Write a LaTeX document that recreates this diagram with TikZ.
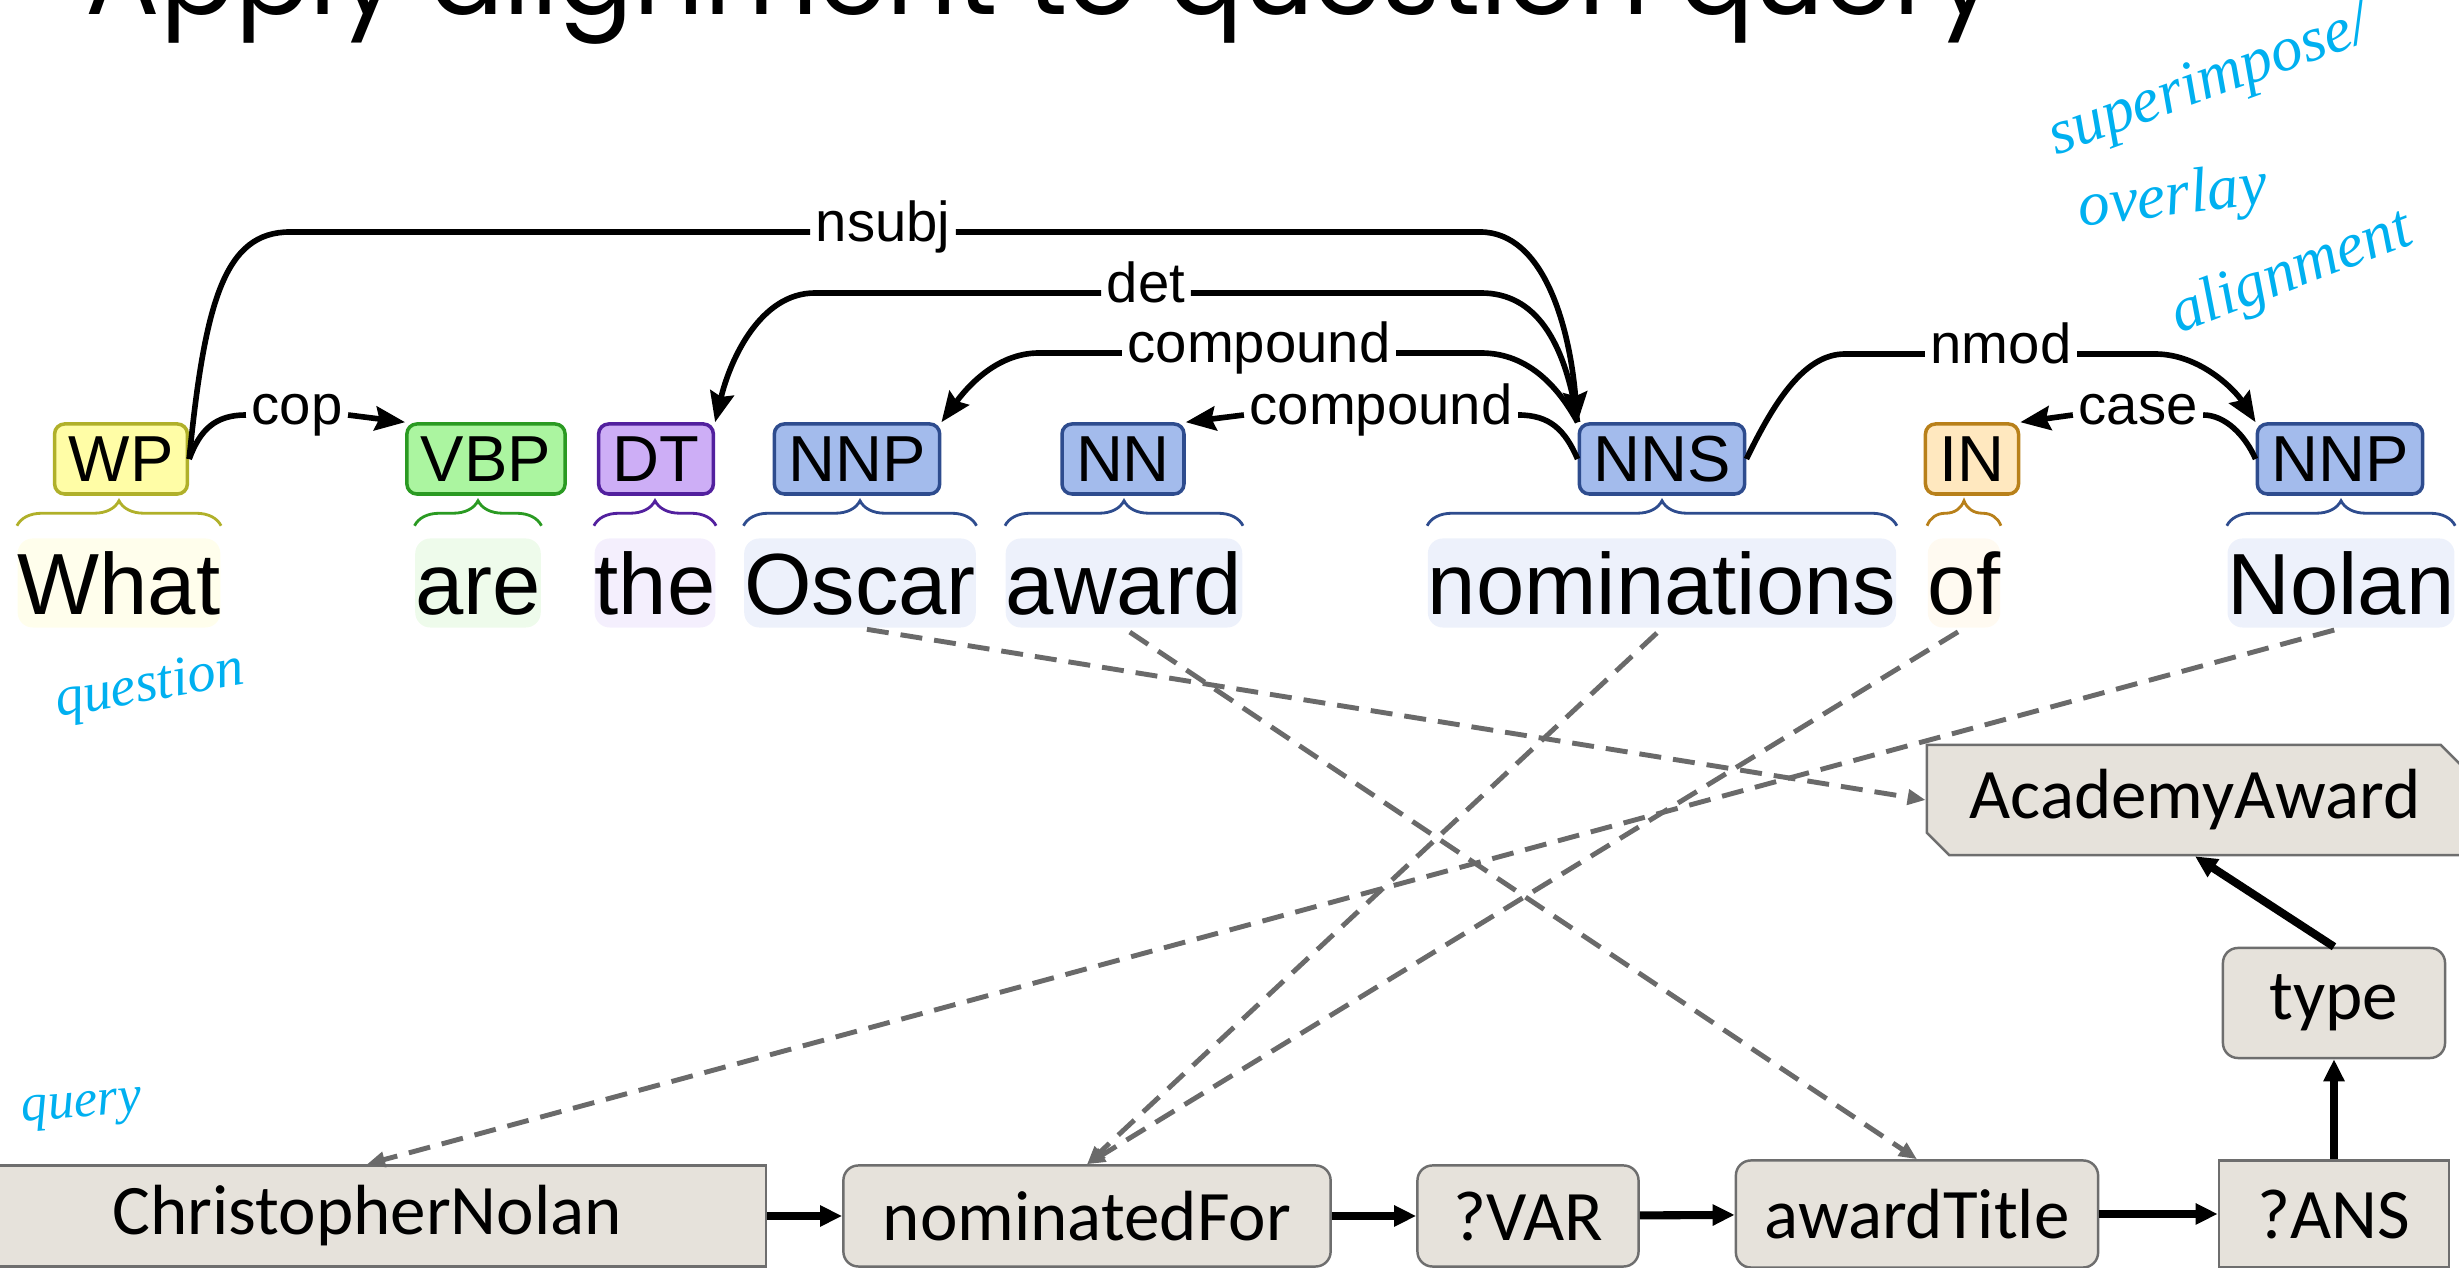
\documentclass[tikz,border=0pt]{standalone}
\usepackage{fontspec}
\setmainfont{Liberation Sans}
\newfontfamily\qryfont{Carlito}
\newfontfamily\ttlfont{Poppins}
\newfontfamily\handfont{Liberation Serif}
\usetikzlibrary{arrows.meta,shapes.misc,decorations.pathreplacing}

\definecolor{wpfill}{HTML}{FFFDA6}
\definecolor{wpline}{HTML}{B0B02A}
\definecolor{wpbg}{HTML}{FFFEEC}
\definecolor{vbpfill}{HTML}{ABF5A0}
\definecolor{vbpline}{HTML}{2A9A22}
\definecolor{vbpbg}{HTML}{EEFBEB}
\definecolor{dtfill}{HTML}{CDAEF6}
\definecolor{dtline}{HTML}{52209E}
\definecolor{dtbg}{HTML}{F4EFFD}
\definecolor{nnfill}{HTML}{A3BBEC}
\definecolor{nnline}{HTML}{2E4C8E}
\definecolor{nnbg}{HTML}{EDF1FB}
\definecolor{infill}{HTML}{FFE8BF}
\definecolor{inpline}{HTML}{B8801A}
\definecolor{inbg}{HTML}{FFFAF1}
\definecolor{qfill}{HTML}{E6E2DB}
\definecolor{qline}{HTML}{6E6E6E}
\definecolor{dashgray}{HTML}{6A6A6A}
\definecolor{handblue}{HTML}{00B0F0}

\tikzset{
  tagbox/.style={rectangle, rounded corners=0.1cm, line width=1pt, minimum height=0.7cm, inner xsep=0.14cm, inner ysep=0, font=\fontsize{18.5}{22}\selectfont},
  wordbox/.style={rectangle, rounded corners=0.15cm, inner sep=0, minimum height=0.89cm, text height=0.62cm, text depth=0cm, font=\fontsize{24.7}{30}\selectfont},
  tokbrace/.style={decorate, decoration={brace, amplitude=0.25cm}, line width=0.8pt},
  arclabel/.style={inner xsep=0.05cm, inner ysep=0, text height=1.25ex, text depth=0.25ex, font=\fontsize{16}{19}\selectfont},
  deparc/.style={line width=1.6pt},
  deptip/.style={deparc, -{Stealth[length=0.3cm,width=0.24cm,inset=0.04cm]}},
  qbox/.style={rectangle, draw=qline, fill=qfill, line width=0.7pt, inner sep=0, minimum height=1.01cm, font=\qryfont\fontsize{20.2}{24}\selectfont},
  qround/.style={qbox, rounded corners=0.15cm},
  qarrow/.style={line width=2.3pt, -{Triangle[length=0.22cm,width=0.2cm]}},
  alignarrow/.style={draw=dashgray, line width=1.4pt, dash pattern=on 0.22cm off 0.12cm, shorten <=0.07cm, -{Triangle[length=0.18cm,width=0.15cm]}},
  hand/.style={text=handblue, font=\handfont\itshape\fontsize{18}{20}\selectfont, inner sep=0}
}

\begin{document}
\begin{tikzpicture}[x=0.01cm,y=-0.01cm]
  \useasboundingbox (0,0) rectangle (2459,1268);

  % title, cut by the top edge
  \node[anchor=base west, inner sep=0] (title) at (85,15) {\resizebox{19.1cm}{!}{\ttlfont Apply alignment to question query}};

  % words
  \node[wordbox, fill=wpbg] (wordWhat) at (119,583) {What};
  \node[wordbox, fill=vbpbg] (wordAre) at (478,583) {are};
  \node[wordbox, fill=dtbg] (wordThe) at (655,583) {the};
  \node[wordbox, fill=nnbg] (wordOscar) at (860,583) {Oscar};
  \node[wordbox, fill=nnbg] (wordAward) at (1124,583) {award};
  \node[wordbox, fill=nnbg] (wordNominations) at (1662,583) {nominations};
  \node[wordbox, fill=inbg] (wordOf) at (1964,583) {of};
  \node[wordbox, fill=nnbg] (wordNolan) at (2341,583) {Nolan};

  % tags
  \node[tagbox, draw=wpline, fill=wpfill] (tagWP) at (121,459) {WP};
  \node[tagbox, draw=vbpline, fill=vbpfill] (tagVBP) at (486,459) {VBP};
  \node[tagbox, draw=dtline, fill=dtfill] (tagDT) at (656,459) {DT};
  \node[tagbox, draw=nnline, fill=nnfill] (tagNNPa) at (857,459) {NNP};
  \node[tagbox, draw=nnline, fill=nnfill] (tagNN) at (1123,459) {NN};
  \node[tagbox, draw=nnline, fill=nnfill] (tagNNS) at (1662,459) {NNS};
  \node[tagbox, draw=inpline, fill=infill] (tagIN) at (1972,459) {IN};
  \node[tagbox, draw=nnline, fill=nnfill] (tagNNPb) at (2340,459) {NNP};

  % braces
  \draw[tokbrace, wpline] ([yshift=0.12cm]wordWhat.north west) -- ([yshift=0.12cm]wordWhat.north east);
  \draw[tokbrace, vbpline] ([yshift=0.12cm]wordAre.north west) -- ([yshift=0.12cm]wordAre.north east);
  \draw[tokbrace, dtline] ([yshift=0.12cm]wordThe.north west) -- ([yshift=0.12cm]wordThe.north east);
  \draw[tokbrace, nnline] ([yshift=0.12cm]wordOscar.north west) -- ([yshift=0.12cm]wordOscar.north east);
  \draw[tokbrace, nnline] ([yshift=0.12cm]wordAward.north west) -- ([yshift=0.12cm]wordAward.north east);
  \draw[tokbrace, nnline] ([yshift=0.12cm]wordNominations.north west) -- ([yshift=0.12cm]wordNominations.north east);
  \draw[tokbrace, inpline] ([yshift=0.12cm]wordOf.north west) -- ([yshift=0.12cm]wordOf.north east);
  \draw[tokbrace, nnline] ([yshift=0.12cm]wordNolan.north west) -- ([yshift=0.12cm]wordNolan.north east);

  % arc labels
  \node[arclabel] (labNsubj) at (883,232) {nsubj};
  \node[arclabel] (labDet) at (1146,293) {det};
  \node[arclabel] (labCompA) at (1259,353) {compound};
  \node[arclabel] (labCompB) at (1381,415) {compound};
  \node[arclabel] (labCop) at (297,415) {cop};
  \node[arclabel] (labNmod) at (2001,354) {nmod};
  \node[arclabel] (labCase) at (2138,415) {case};

  % dependency arcs
  \draw[deparc] (tagWP.east) .. controls (205,300) and (225,232) .. (290,232) -- (labNsubj.west);
  \draw[deptip] (labNsubj.east) -- (1480,232) .. controls (1545,232) and (1570,330) .. (tagNNS.north west);
  \draw[deparc] (tagNNS.north west) .. controls (1565,340) and (1535,293) .. (1481,293) -- (labDet.east);
  \draw[deptip] (labDet.west) -- (815,293) .. controls (760,293) and (730,360) .. (tagDT.north east);
  \draw[deparc] (tagNNS.north west) .. controls (1560,390) and (1530,353) .. (1481,353) -- (labCompA.east);
  \draw[deptip] (labCompA.west) -- (1039,353) .. controls (995,353) and (965,390) .. (tagNNPa.north east);
  \draw[deparc] (tagNNS.west) .. controls (1565,430) and (1550,415) .. (labCompB.east);
  \draw[deptip] (labCompB.west) -- (tagNN.north east);
  \draw[deparc] (tagWP.east) .. controls (200,430) and (215,415) .. (labCop.west);
  \draw[deptip] (labCop.east) -- (tagVBP.north west);
  \draw[deparc] (tagNNS.east) .. controls (1775,400) and (1805,354) .. (1845,354) -- (labNmod.west);
  \draw[deptip] (labNmod.east) -- (2155,354) .. controls (2200,354) and (2235,390) .. (tagNNPb.north west);
  \draw[deparc] (tagNNPb.west) .. controls (2245,435) and (2225,415) .. (labCase.east);
  \draw[deptip] (labCase.west) -- (tagIN.north east);

  % query graph
  \node[qbox, minimum width=7.98cm] (qryNolan) at (367,1216) {ChristopherNolan};
  \node[qround, minimum width=4.87cm] (qryNominated) at (1087,1216) {nominatedFor};
  \node[qround, minimum width=2.21cm] (qryVar) at (1528,1216) {?VAR};
  \node[qround, minimum width=3.62cm, minimum height=1.07cm] (qryTitle) at (1917,1214) {awardTitle};
  \node[qbox, minimum width=2.3cm, minimum height=1.07cm] (qryAns) at (2334,1214) {?ANS};
  \node[qround, minimum width=2.22cm, minimum height=1.1cm] (qryType) at (2334,1003) {type};
  \node[qbox, chamfered rectangle, chamfered rectangle corners={north east,south west}, chamfered rectangle angle=45, chamfered rectangle xsep=0.1cm, minimum width=5.36cm, minimum height=1.1cm] (qryAcademy) at (2195,800) {AcademyAward};

  \draw[qarrow] (qryNolan) -- (qryNominated);
  \draw[qarrow] (qryNominated) -- (qryVar);
  \draw[qarrow] (qryVar) -- (qryTitle);
  \draw[qarrow] (qryTitle) -- (qryAns);
  \draw[qarrow] (qryAns) -- (qryType);
  \draw[qarrow] (qryType.north) -- (qryAcademy.south);

  % alignment
  \draw[alignarrow] (wordOscar.south) -- (qryAcademy.west);
  \draw[alignarrow] (wordAward.south) -- (qryTitle.north);
  \draw[alignarrow] (wordNominations.south) -- (qryNominated.north);
  \draw[alignarrow] (wordOf.south) -- (qryNominated.north);
  \draw[alignarrow] (wordNolan.south) -- (qryNolan.north);

  % notes
  \node[hand, rotate=20] (noteSuper) at (2210,84) {superimpose/};
  \node[hand, rotate=7] (noteOverlay) at (2173,200) {overlay};
  \node[hand, rotate=21] (noteAlign) at (2292,274) {alignment};
  \node[hand, rotate=10, font=\handfont\itshape\fontsize{16}{18}\selectfont] (noteQuestion) at (150,688) {question};
  \node[hand, rotate=5, font=\handfont\itshape\fontsize{15}{17}\selectfont] (noteQuery) at (82,1110) {query};
\end{tikzpicture}
\end{document}
